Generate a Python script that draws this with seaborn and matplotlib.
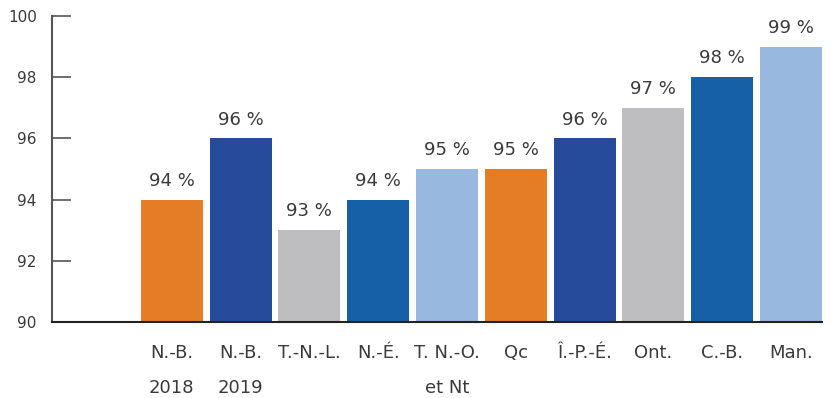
import matplotlib
matplotlib.use("Agg")
import matplotlib.pyplot as plt
import seaborn as sns
import pandas as pd

# daten
provinces = ["N.-B.\n2018", "N.-B.\n2019", "T.-N.-L.", "N.-É.", "T. N.-O.\net Nt",
             "Qc", "Î.-P.-É.", "Ont.", "C.-B.", "Man."]
values = [94, 96, 93, 94, 95, 95, 96, 97, 98, 99]
colors = ["#E37D26", "#264B9A", "#BEBEC1", "#1560A7", "#99B8E0",
          "#E37D26", "#264B9A", "#BEBEC1", "#1560A7", "#99B8E0"]

df = pd.DataFrame({"Province": provinces, "Value": values})

sns.set_style("white")
plt.rcParams["font.family"] = ["DejaVu Sans"]
text_col = "#3a3a3a"

fig = plt.figure(figsize=(8.4, 3.98), dpi=100)
ax = fig.add_axes([52 / 840, 76 / 398, (822 - 52) / 840, (322 - 16) / 398])

sns.barplot(data=df, x="Province", y="Value", hue="Province", palette=colors,
            legend=False, width=0.9, saturation=1, ax=ax)

# balken ab 90 starten lassen
ax.set_ylim(90, 100)
for bar, v in zip(ax.patches, values):
    bar.set_y(90)
    bar.set_height(v - 90)
    bar.set_edgecolor("none")
    ax.annotate(f"{v} %", (bar.get_x() + bar.get_width() / 2, v),
                xytext=(0, 7), textcoords="offset points",
                ha="center", va="bottom", fontsize=13, color=text_col)

ax.set_xlim(-1.74, 9.45)
ax.set_yticks([90, 92, 94, 96, 98, 100])
ax.tick_params(axis="y", left=True, direction="in", length=14, width=1.2, color="#555555",
               labelsize=11, labelcolor=text_col, pad=11)
ax.tick_params(axis="x", length=0, labelsize=13, labelcolor=text_col, pad=16)
for lab in ax.get_xticklabels():
    lab.set_linespacing(2.2)
    lab.set_va("top")

ax.set_xlabel("")
ax.set_ylabel("")
sns.despine(ax=ax)
ax.spines["left"].set_color("#555555")
ax.spines["left"].set_linewidth(1.5)
ax.spines["bottom"].set_color("#222222")
ax.spines["bottom"].set_linewidth(1.5)

plt.savefig("out.png", dpi=100)
